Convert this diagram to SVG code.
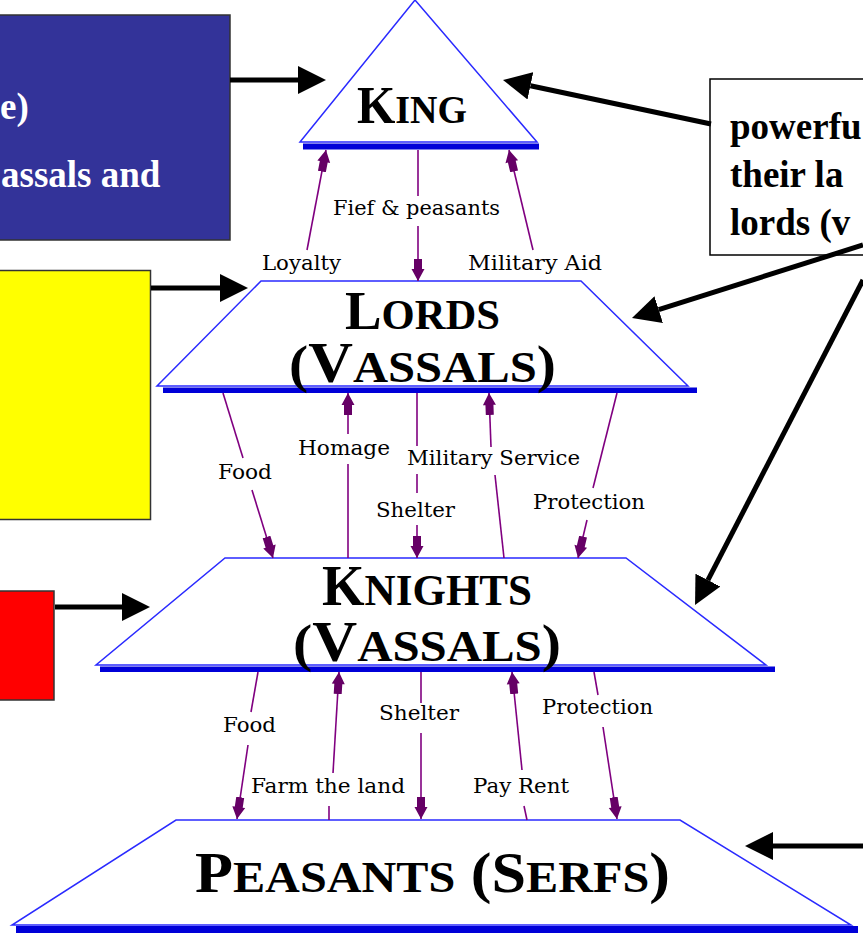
<svg xmlns="http://www.w3.org/2000/svg" width="863" height="933" viewBox="0 0 863 933">
<style>
.outline{fill:#fff;stroke:#2a2aff;stroke-width:1.5;stroke-linejoin:miter}
.bar{fill:#0000d8}
.title{font-family:"Liberation Serif",serif;font-weight:bold;fill:#000}
.lbl{font-family:"DejaVu Serif",serif;font-size:20px;fill:#000}
.conn{stroke:#800080;stroke-width:1.6;fill:none}
.big{stroke:#000;stroke-width:5;fill:none}
.note{font-family:"Liberation Serif",serif;font-weight:bold;font-size:37px}
</style>
<defs>
<marker id="pa" markerUnits="userSpaceOnUse" viewBox="0 -7 22 14" markerWidth="22" markerHeight="14" refX="22" refY="0" orient="auto">
<polygon points="0,-4 10,-4 10,-6.5 22,0 10,6.5 10,4 0,4" fill="#660066"/>
</marker>
<marker id="ba" markerUnits="userSpaceOnUse" viewBox="0 -14 28 28" markerWidth="28" markerHeight="28" refX="0" refY="0" orient="auto">
<polygon points="0,-14 28,0 0,14" fill="#000"/>
</marker>
</defs>
<rect width="863" height="933" fill="#fff"/>

<g id="box-blue">
<rect x="-5" y="15" width="235" height="225" fill="#333399" stroke="#333" stroke-width="1.5"/>
<text class="note" x="0" y="119" fill="#fff">e)</text>
<text class="note" x="1" y="187" fill="#fff">assals and</text>
</g>
<g id="box-yellow">
<rect x="-5" y="270.5" width="155.5" height="249" fill="#ffff00" stroke="#333" stroke-width="1.5"/>
</g>
<g id="box-red">
<rect x="-5" y="591" width="59" height="109" fill="#ff0000" stroke="#333" stroke-width="1.5"/>
</g>
<g id="box-note">
<rect x="710" y="79" width="160" height="176" fill="#fff" stroke="#000" stroke-width="1.5"/>
<text class="note" x="730" y="139">powerfu</text>
<text class="note" x="730" y="187">their la</text>
<text class="note" x="730" y="235">lords (v</text>
</g>

<g id="node-king">
<polygon class="outline" points="415,0 537,142 300,142"/>
<rect class="bar" x="303" y="143.5" width="236" height="6"/>
<text class="title" x="357" y="123" textLength="110" lengthAdjust="spacingAndGlyphs"><tspan font-size="52">K</tspan><tspan font-size="40">ING</tspan></text>
</g>
<g id="node-lords">
<polygon class="outline" points="261,281 581,281 688,386 157,386"/>
<rect class="bar" x="163" y="387.5" width="534" height="5.5"/>
<text class="title" x="345" y="329" textLength="155" lengthAdjust="spacingAndGlyphs"><tspan font-size="54">L</tspan><tspan font-size="42">ORDS</tspan></text>
<text class="title" x="289" y="382" textLength="267" lengthAdjust="spacingAndGlyphs"><tspan font-size="52">(</tspan><tspan font-size="56">V</tspan><tspan font-size="44">ASSALS</tspan><tspan font-size="52">)</tspan></text>
</g>
<g id="node-knights">
<polygon class="outline" points="225,558 626,558 766,665 96,665"/>
<rect class="bar" x="100" y="666.5" width="675" height="5.5"/>
<text class="title" x="322" y="605" textLength="210" lengthAdjust="spacingAndGlyphs"><tspan font-size="56">K</tspan><tspan font-size="44">NIGHTS</tspan></text>
<text class="title" x="293" y="661" textLength="268" lengthAdjust="spacingAndGlyphs"><tspan font-size="52">(</tspan><tspan font-size="56">V</tspan><tspan font-size="44">ASSALS</tspan><tspan font-size="52">)</tspan></text>
</g>
<g id="node-peasants">
<polygon class="outline" points="176,820 680,820 851,925 12,925"/>
<rect class="bar" x="16" y="926" width="842" height="7"/>
<text class="title" x="195" y="892" textLength="475" lengthAdjust="spacingAndGlyphs"><tspan font-size="58">P</tspan><tspan font-size="45">EASANTS</tspan><tspan font-size="58"> (S</tspan><tspan font-size="45">ERFS</tspan><tspan font-size="58">)</tspan></text>
</g>

<g id="connectors">
<line class="big" x1="230" y1="80" x2="298" y2="80" marker-end="url(#ba)"/>
<line class="big" x1="711" y1="124" x2="530.4" y2="85.8" marker-end="url(#ba)"/>
<line class="big" x1="863" y1="245" x2="658.7" y2="309.6" marker-end="url(#ba)"/>
<line class="big" x1="863" y1="280" x2="707.9" y2="580.1" marker-end="url(#ba)"/>
<line class="big" x1="151" y1="288" x2="220" y2="288" marker-end="url(#ba)"/>
<line class="big" x1="55" y1="607" x2="122" y2="607" marker-end="url(#ba)"/>
<line class="big" x1="863" y1="846" x2="773" y2="846" marker-end="url(#ba)"/>

<line class="conn" x1="307" y1="250" x2="326" y2="150" marker-end="url(#pa)"/>
<line class="conn" x1="418" y1="150" x2="418" y2="196"/>
<line class="conn" x1="418" y1="226" x2="418" y2="281" marker-end="url(#pa)"/>
<line class="conn" x1="533" y1="250" x2="509" y2="150" marker-end="url(#pa)"/>

<line class="conn" x1="223" y1="393" x2="243" y2="458"/>
<line class="conn" x1="252" y1="490" x2="273" y2="558" marker-end="url(#pa)"/>
<line class="conn" x1="348" y1="558" x2="348" y2="464"/>
<line class="conn" x1="348" y1="434" x2="348" y2="393" marker-end="url(#pa)"/>
<line class="conn" x1="417" y1="393" x2="417" y2="446"/>
<line class="conn" x1="417" y1="474" x2="417" y2="493"/>
<line class="conn" x1="417" y1="525" x2="417" y2="558" marker-end="url(#pa)"/>
<line class="conn" x1="504" y1="558" x2="495" y2="475"/>
<line class="conn" x1="491" y1="447" x2="489" y2="393" marker-end="url(#pa)"/>
<line class="conn" x1="617" y1="393" x2="593" y2="488"/>
<line class="conn" x1="587" y1="520" x2="578" y2="558" marker-end="url(#pa)"/>

<line class="conn" x1="258" y1="672" x2="251" y2="712"/>
<line class="conn" x1="248" y1="745" x2="237" y2="819" marker-end="url(#pa)"/>
<line class="conn" x1="329" y1="820" x2="329" y2="806"/>
<line class="conn" x1="333" y1="773" x2="339" y2="672" marker-end="url(#pa)"/>
<line class="conn" x1="421" y1="672" x2="421" y2="703"/>
<line class="conn" x1="421" y1="733" x2="421" y2="819" marker-end="url(#pa)"/>
<line class="conn" x1="527" y1="820" x2="524" y2="806"/>
<line class="conn" x1="522" y1="770" x2="512" y2="672" marker-end="url(#pa)"/>
<line class="conn" x1="594" y1="672" x2="598" y2="695"/>
<line class="conn" x1="603" y1="727" x2="617" y2="819" marker-end="url(#pa)"/>

<text class="lbl" x="333" y="215" textLength="167" lengthAdjust="spacingAndGlyphs">Fief &amp; peasants</text>
<text class="lbl" x="262" y="270" textLength="79" lengthAdjust="spacingAndGlyphs">Loyalty</text>
<text class="lbl" x="468" y="270" textLength="134" lengthAdjust="spacingAndGlyphs">Military Aid</text>
<text class="lbl" x="298" y="455" textLength="92" lengthAdjust="spacingAndGlyphs">Homage</text>
<text class="lbl" x="407" y="465" textLength="173" lengthAdjust="spacingAndGlyphs">Military Service</text>
<text class="lbl" x="218" y="479" textLength="54" lengthAdjust="spacingAndGlyphs">Food</text>
<text class="lbl" x="376" y="517" textLength="79" lengthAdjust="spacingAndGlyphs">Shelter</text>
<text class="lbl" x="533" y="509" textLength="112" lengthAdjust="spacingAndGlyphs">Protection</text>
<text class="lbl" x="223" y="732" textLength="53" lengthAdjust="spacingAndGlyphs">Food</text>
<text class="lbl" x="379" y="720" textLength="80" lengthAdjust="spacingAndGlyphs">Shelter</text>
<text class="lbl" x="542" y="714" textLength="111" lengthAdjust="spacingAndGlyphs">Protection</text>
<text class="lbl" x="251" y="793" textLength="154" lengthAdjust="spacingAndGlyphs">Farm the land</text>
<text class="lbl" x="473" y="793" textLength="96" lengthAdjust="spacingAndGlyphs">Pay Rent</text>
</g>
</svg>
